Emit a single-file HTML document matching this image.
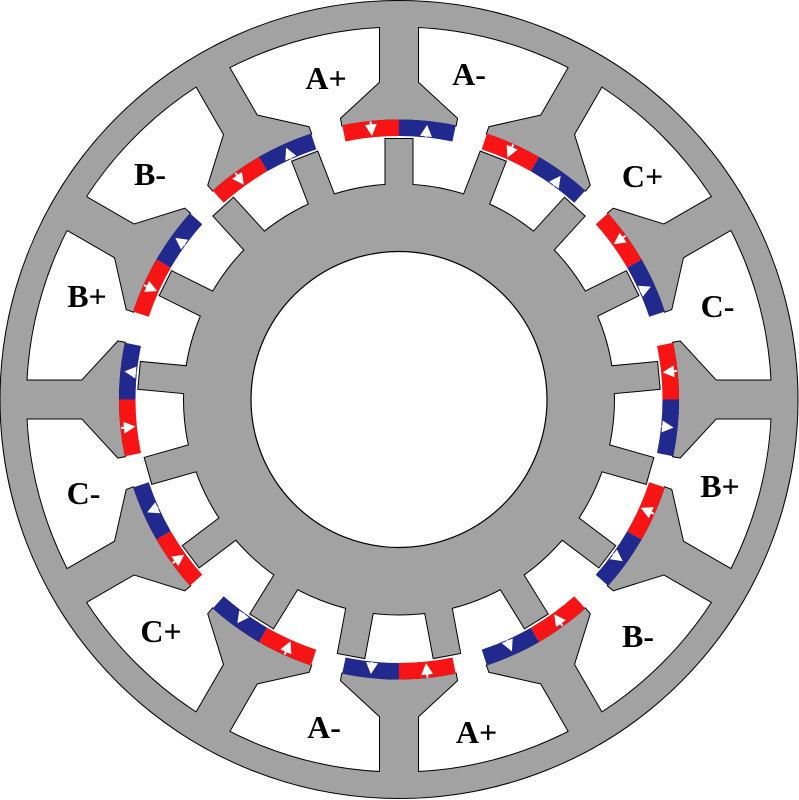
<!DOCTYPE html>
<html>
<head>
<meta charset="utf-8">
<style>
  html, body { margin: 0; padding: 0; background: #ffffff; }
  svg { display: block; }
  .lbl { font-family: "Liberation Serif", "Times New Roman", serif; font-weight: bold; font-size: 32px; fill: #000; }
</style>
</head>
<body>
<svg width="799" height="800" viewBox="0 0 799 800" xmlns="http://www.w3.org/2000/svg">
  <rect x="0" y="0" width="799" height="800" fill="#ffffff"/>
  <defs>
    <path id="shoe" d="M-19,-385 L-19,-317 L-58,-281 L-56.78,-274.18 A280,280 0 0 1 56.78,-274.18 L58,-281 L19,-317 L19,-385 Z"/>
    <rect id="rt" x="-13.5" y="-260.5" width="27" height="56"/>
    <path id="ring" fill-rule="evenodd" d="M0,-398.5 A398.5,398.5 0 1 1 0,398.5 A398.5,398.5 0 1 1 0,-398.5 Z M0,-373 A373,373 0 1 0 0,373 A373,373 0 1 0 0,-373 Z"/>
    <g id="mag">
      <path fill="#f81414" d="M-56.78,-274.18 A280,280 0 0 1 0,-280 L0,-263.5 A263.5,263.5 0 0 0 -53.44,-258.03 Z"/>
      <path fill="#22298e" d="M0,-280 A280,280 0 0 1 56.78,-274.18 L53.44,-258.03 A263.5,263.5 0 0 0 0,-263.5 Z"/>
      <g transform="rotate(-5.85)" fill="#ffffff">
        <polygon points="-6,-276.5 6,-276.5 0,-265"/>
        <rect x="-1" y="-279.5" width="2" height="3.5"/>
      </g>
      <g transform="rotate(5.85)" fill="#ffffff">
        <polygon points="-6,-264.5 6,-264.5 0,-276"/>
        <rect x="-1" y="-265.5" width="2" height="1.5"/>
      </g>
    </g>
  </defs>

  <g transform="translate(399,399.5)">
    <!-- Stator outline layer -->
    <g fill="#a2a2a2" stroke="#000000" stroke-width="2">
      <use href="#ring"/>
      <use href="#shoe" transform="rotate(0)"/>
      <use href="#shoe" transform="rotate(30)"/>
      <use href="#shoe" transform="rotate(60)"/>
      <use href="#shoe" transform="rotate(90)"/>
      <use href="#shoe" transform="rotate(120)"/>
      <use href="#shoe" transform="rotate(150)"/>
      <use href="#shoe" transform="rotate(180)"/>
      <use href="#shoe" transform="rotate(210)"/>
      <use href="#shoe" transform="rotate(240)"/>
      <use href="#shoe" transform="rotate(270)"/>
      <use href="#shoe" transform="rotate(300)"/>
      <use href="#shoe" transform="rotate(330)"/>
    </g>
    <!-- Stator fill layer (hides internal seams) -->
    <g fill="#a2a2a2" stroke="none">
      <use href="#ring"/>
      <use href="#shoe" transform="rotate(0)"/>
      <use href="#shoe" transform="rotate(30)"/>
      <use href="#shoe" transform="rotate(60)"/>
      <use href="#shoe" transform="rotate(90)"/>
      <use href="#shoe" transform="rotate(120)"/>
      <use href="#shoe" transform="rotate(150)"/>
      <use href="#shoe" transform="rotate(180)"/>
      <use href="#shoe" transform="rotate(210)"/>
      <use href="#shoe" transform="rotate(240)"/>
      <use href="#shoe" transform="rotate(270)"/>
      <use href="#shoe" transform="rotate(300)"/>
      <use href="#shoe" transform="rotate(330)"/>
    </g>

    <!-- Rotor outline layer -->
    <g fill="#a2a2a2" stroke="#000000" stroke-width="2">
      <circle cx="0" cy="0" r="215"/>
      <use href="#rt" transform="rotate(0)"/>
      <use href="#rt" transform="rotate(21.17647)"/>
      <use href="#rt" transform="rotate(42.35294)"/>
      <use href="#rt" transform="rotate(63.52941)"/>
      <use href="#rt" transform="rotate(84.70588)"/>
      <use href="#rt" transform="rotate(105.88235)"/>
      <use href="#rt" transform="rotate(127.05882)"/>
      <use href="#rt" transform="rotate(148.23529)"/>
      <use href="#rt" transform="rotate(169.41176)"/>
      <use href="#rt" transform="rotate(190.58824)"/>
      <use href="#rt" transform="rotate(211.76471)"/>
      <use href="#rt" transform="rotate(232.94118)"/>
      <use href="#rt" transform="rotate(254.11765)"/>
      <use href="#rt" transform="rotate(275.29412)"/>
      <use href="#rt" transform="rotate(296.47059)"/>
      <use href="#rt" transform="rotate(317.64706)"/>
      <use href="#rt" transform="rotate(338.82353)"/>
    </g>
    <!-- Rotor fill layer -->
    <g fill="#a2a2a2" stroke="none">
      <circle cx="0" cy="0" r="215"/>
      <use href="#rt" transform="rotate(0)"/>
      <use href="#rt" transform="rotate(21.17647)"/>
      <use href="#rt" transform="rotate(42.35294)"/>
      <use href="#rt" transform="rotate(63.52941)"/>
      <use href="#rt" transform="rotate(84.70588)"/>
      <use href="#rt" transform="rotate(105.88235)"/>
      <use href="#rt" transform="rotate(127.05882)"/>
      <use href="#rt" transform="rotate(148.23529)"/>
      <use href="#rt" transform="rotate(169.41176)"/>
      <use href="#rt" transform="rotate(190.58824)"/>
      <use href="#rt" transform="rotate(211.76471)"/>
      <use href="#rt" transform="rotate(232.94118)"/>
      <use href="#rt" transform="rotate(254.11765)"/>
      <use href="#rt" transform="rotate(275.29412)"/>
      <use href="#rt" transform="rotate(296.47059)"/>
      <use href="#rt" transform="rotate(317.64706)"/>
      <use href="#rt" transform="rotate(338.82353)"/>
    </g>
    <!-- Shaft hole -->
    <circle cx="0" cy="0" r="148" fill="#ffffff" stroke="#000000" stroke-width="1.2"/>

    <!-- Magnets -->
    <use href="#mag" transform="rotate(0)"/>
    <use href="#mag" transform="rotate(30)"/>
    <use href="#mag" transform="rotate(60)"/>
    <use href="#mag" transform="rotate(90)"/>
    <use href="#mag" transform="rotate(120)"/>
    <use href="#mag" transform="rotate(150)"/>
    <use href="#mag" transform="rotate(180)"/>
    <use href="#mag" transform="rotate(210)"/>
    <use href="#mag" transform="rotate(240)"/>
    <use href="#mag" transform="rotate(270)"/>
    <use href="#mag" transform="rotate(300)"/>
    <use href="#mag" transform="rotate(330)"/>
  </g>

  <!-- Labels -->
  <text class="lbl" x="326" y="89" text-anchor="middle">A+</text>
  <text class="lbl" x="469" y="85" text-anchor="middle">A-</text>
  <text class="lbl" x="150" y="185" text-anchor="middle">B-</text>
  <text class="lbl" x="642.5" y="187" text-anchor="middle">C+</text>
  <text class="lbl" x="87" y="307" text-anchor="middle">B+</text>
  <text class="lbl" x="717.5" y="317" text-anchor="middle">C-</text>
  <text class="lbl" x="83.5" y="504" text-anchor="middle">C-</text>
  <text class="lbl" x="720" y="497" text-anchor="middle">B+</text>
  <text class="lbl" x="161" y="642" text-anchor="middle">C+</text>
  <text class="lbl" x="638" y="647" text-anchor="middle">B-</text>
  <text class="lbl" x="324" y="738" text-anchor="middle">A-</text>
  <text class="lbl" x="476.5" y="743" text-anchor="middle">A+</text>
</svg>
</body>
</html>
